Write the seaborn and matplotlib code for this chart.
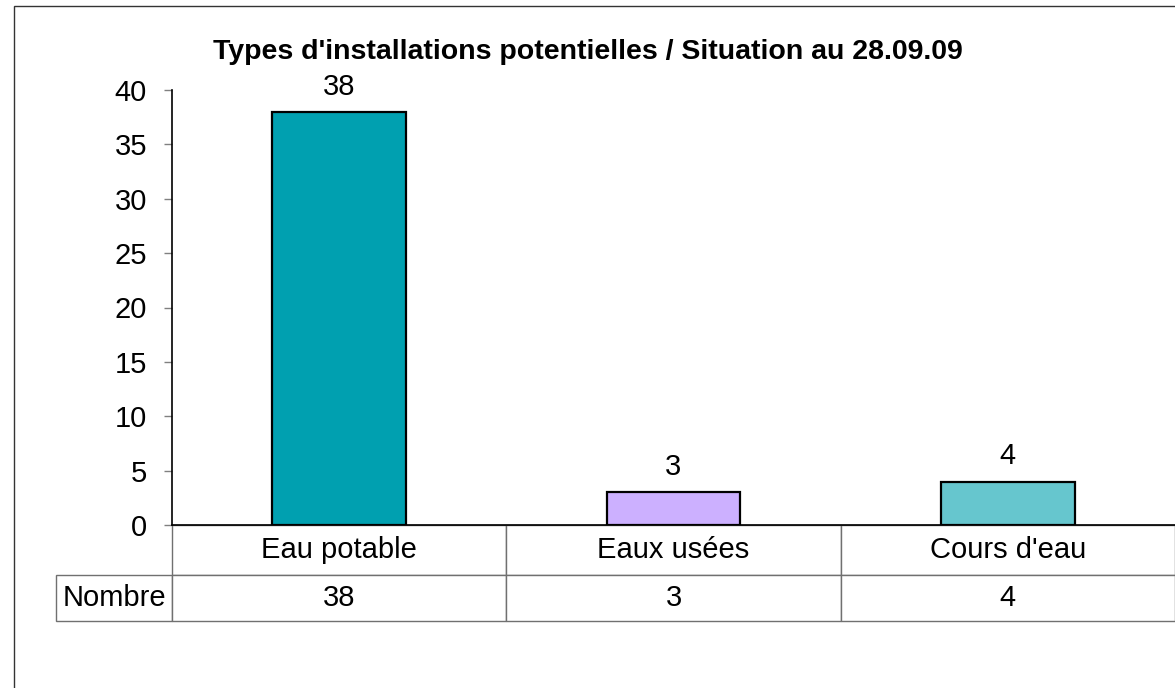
import matplotlib
matplotlib.use('Agg')
import matplotlib.pyplot as plt
from matplotlib.patches import Rectangle
import seaborn as sns

# ── données ───────────────────────────────────────────────
categories = ['Eau potable', 'Eaux usées', "Cours d'eau"]
nombre = [38, 3, 4]
bar_colors = ['#00A0B0', '#CCB0FF', '#66C6CE']
row_label = 'Nombre'
titre = "Types d'installations potentielles / Situation au 28.09.09"

sns.set_theme(style='white')
plt.rcParams['font.family'] = ['Liberation Sans', 'DejaVu Sans']
plt.rcParams['text.color'] = 'black'
plt.rcParams['ytick.labelcolor'] = 'black'

W, H = 1175, 688
fig = plt.figure(figsize=(W / 100, H / 100), dpi=100)
ax = fig.add_axes([172 / W, 1 - 525 / H, 1 - 172 / W, (525 - 90) / H])

sns.barplot(x=categories, y=nombre, hue=categories, palette=bar_colors,
            saturation=1, width=0.4, edgecolor='black', linewidth=1.6,
            legend=False, ax=ax)

for cont in ax.containers:
    ax.bar_label(cont, fontsize=21, padding=8, color='black')

ax.set_xlim(-0.5, 2.5)
ax.set_ylim(0, 40)
ax.set_yticks(range(0, 41, 5))
ax.set_xticks([])
ax.set_xlabel('')
ax.set_ylabel('')
ax.tick_params(axis='y', which='both', left=True, direction='out', length=6,
               width=1, color='#808080', labelsize=21, pad=12, labelcolor='black')
for side in ['top', 'right']:
    ax.spines[side].set_visible(False)
for side in ['left', 'bottom']:
    ax.spines[side].set_color('black')
    ax.spines[side].set_linewidth(1.2)
ax.set_zorder(2)

# ── tableau de données sous l'axe ─────────────────────────
ax_h = 525 - 90
ax_w = W - 172
tbl = ax.table(cellText=[[str(v) for v in nombre]],
               colLabels=categories, colWidths=[1 / len(categories)] * len(categories),
               cellLoc='center',
               bbox=[0, -(621 - 525) / ax_h, 1, (621 - 525) / ax_h])
tbl.add_cell(1, -1, width=116 / ax_w, height=46, text=row_label, loc='center')
tbl.auto_set_font_size(False)
tbl.set_fontsize(21)
for (r, c), cell in tbl.get_celld().items():
    cell.set_edgecolor('#707070')
    cell.set_linewidth(1)
    cell.set_height(50 if r == 0 else 46)
    cell.get_text().set_color('black')
tbl.set_clip_on(False)

fig.text(0.5, 1 - 52 / H, titre, ha='center', va='center',
         fontsize=20.5, fontweight='bold', color='black')

# cadre du graphique
fig.add_artist(Rectangle((14 / W, -0.1), 2, 1.1 - 6 / H, transform=fig.transFigure,
                         fill=False, edgecolor='#333333', linewidth=1))

plt.savefig('out.png', dpi=100)
